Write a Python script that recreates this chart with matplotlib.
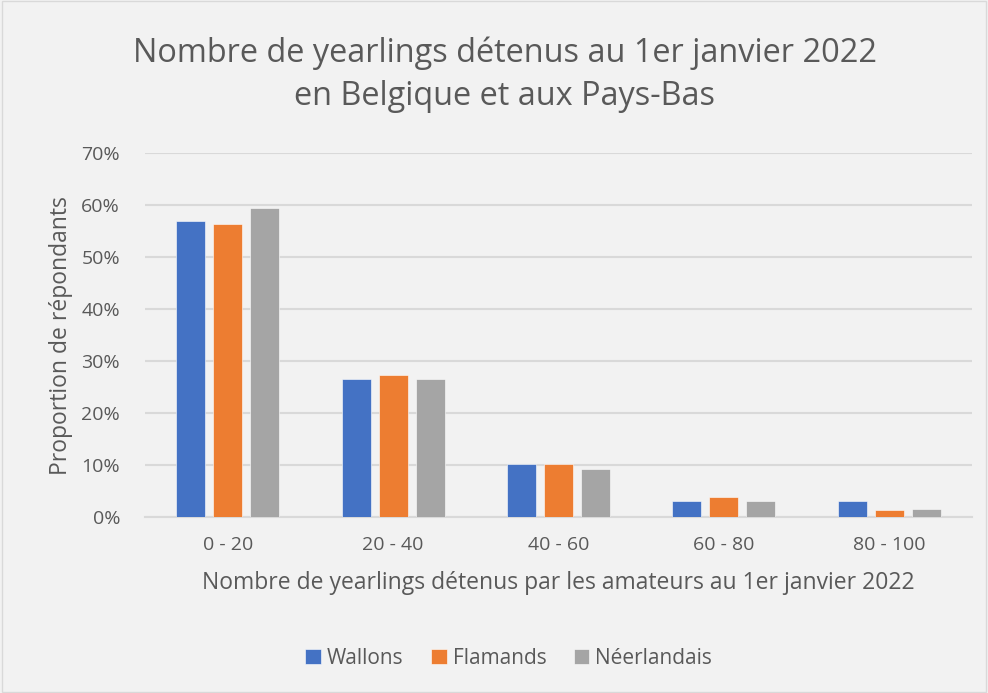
import numpy as np
import matplotlib.pyplot as plt
from matplotlib.ticker import PercentFormatter

# Données
categories = ['0 - 20', '20 - 40', '40 - 60', '60 - 80', '80 - 100']
wallons = [57.0, 26.6, 10.1, 3.1, 3.1]
flamands = [56.3, 27.3, 10.1, 3.8, 1.4]
neerlandais = [59.4, 26.5, 9.3, 3.1, 1.6]

series = ['Wallons', 'Flamands', 'Néerlandais']
couleurs = ['#4472C4', '#ED7D31', '#A5A5A5']

plt.rcParams['font.family'] = ['Open Sans', 'DejaVu Sans']
gris_txt = '#595959'

fig = plt.figure(figsize=(9.88, 6.93), dpi=100, facecolor='#f2f2f2')
ax = fig.add_axes([0.1468, 0.254, 0.837, 0.525])
ax.set_facecolor('#f2f2f2')

x = np.arange(len(categories))
pas = 0.224
larg = 0.175
for i, (vals, nom, c) in enumerate(zip([wallons, flamands, neerlandais], series, couleurs)):
    ax.bar(x + (i - 1) * pas, vals, width=larg, color=c, label=nom,
           edgecolor='white', linewidth=0.4, zorder=3)

ax.set_xlim(-0.5, 4.5)
ax.set_ylim(0, 70)
ax.set_yticks(np.arange(0, 71, 10))
ax.yaxis.set_major_formatter(PercentFormatter(decimals=0))
ax.set_xticks(x)
ax.set_xticklabels(categories)
ax.grid(axis='y', color='#d9d9d9', linewidth=1.5, zorder=0)
ax.tick_params(axis='both', length=0, labelsize=14, colors=gris_txt)
ax.tick_params(axis='x', pad=14)
ax.tick_params(axis='y', pad=18)
for s in ['top', 'right', 'left']:
    ax.spines[s].set_visible(False)
ax.spines['bottom'].set_color('#d9d9d9')
ax.spines['bottom'].set_linewidth(1.5)

ax.set_xlabel('Nombre de yearlings détenus par les amateurs au 1er janvier 2022',
              fontsize=16.5, color=gris_txt, labelpad=12)
ax.set_ylabel('Proportion de répondants', fontsize=16.5, color=gris_txt, labelpad=6)

fig.text(0.511, 0.892, 'Nombre de yearlings détenus au 1er janvier 2022\nen Belgique et aux Pays-Bas',
         ha='center', va='center', fontsize=23.4, color=gris_txt, linespacing=1.38)

fig.legend(loc='center', bbox_to_anchor=(0.515, 0.05), ncol=3, frameon=False,
           fontsize=15, labelcolor=gris_txt, handlelength=0.75, handleheight=0.75,
           handletextpad=0.3, columnspacing=1.3)

# Cadre
fig.add_artist(plt.Rectangle((0.002, 0.002), 0.996, 0.996, transform=fig.transFigure,
                             fill=False, edgecolor='#d9d9d9', linewidth=1))

plt.savefig('out.png', dpi=100, facecolor=fig.get_facecolor())
